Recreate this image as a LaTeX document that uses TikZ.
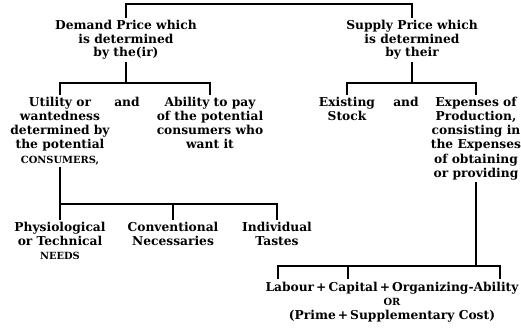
\documentclass[tikz,border=0pt]{standalone}
\usepackage{fontspec}
\setmainfont{DejaVu Serif}
\newcommand{\capsword}[1]{{\fontsize{7.4}{10.6}\selectfont #1}}

\begin{document}
\begin{tikzpicture}[x=0.75pt,y=0.75pt,yscale=-1,xscale=1,
    txt/.style={font=\bfseries\fontsize{9.2}{10.6}\selectfont, align=center, inner sep=1.5pt},
    link/.style={line width=0.9pt}]
        \useasboundingbox (0,0) rectangle (521,329);

        %Text Node: the two prices
        \node[txt, font=\bfseries\fontsize{9.2}{10.1}\selectfont] (demand) at (126,40) {Demand Price which\\is determined\\by the(ir)};
        \node[txt, font=\bfseries\fontsize{9.2}{10.1}\selectfont] (supply) at (412,40) {Supply Price which\\is determined\\by their};

        %Text Node: demand side
        \node[txt, anchor=north] (utility) at (60,95) {Utility or\\wantedness\\determined by\\the potential\\\capsword{CONSUMERS,}};
        \node[txt, anchor=north] (and1) at (127,95) {and};
        \node[txt, anchor=north] (ability) at (210,95) {Ability to pay\\of the potential\\consumers who\\want it};

        %Text Node: supply side
        \node[txt, anchor=north] (existing) at (347,95) {Existing\\Stock};
        \node[txt, anchor=north] (and2) at (406,95) {and};
        \node[txt, anchor=north] (expenses) at (476,95) {Expenses of\\Production,\\consisting in\\the Expenses\\of obtaining\\or providing};

        %Text Node: kinds of wants
        \node[txt, anchor=north] (needs) at (60,220) {Physiological\\or Technical\\\capsword{NEEDS}};
        \node[txt, anchor=north] (conventional) at (173,220) {Conventional\\Necessaries};
        \node[txt, anchor=north] (individual) at (277,220) {Individual\\Tastes};

        %Text Node: factors of production
        \node[txt, anchor=north] (factors) at (392,280) {Labour\,+\,Capital\,+\,Organizing-Ability\\\capsword{OR}\\(Prime\,+\,Supplementary Cost)};

        %Shape: brackets
        \coordinate (topbar) at (270,4);
        \coordinate (dbar) at (126,83);
        \coordinate (sbar) at (412,83);
        \coordinate (ubar) at (60,204);
        \coordinate (cbar) at (476,266);
        \coordinate (tlab) at (278,279);
        \coordinate (tcap) at (348,279);
        \coordinate (tabl) at (500,279);

        \draw[link] (demand.north) |- (topbar) -| (supply.north);
        \draw[link] (demand.south) -- (dbar);
        \draw[link] (utility.north) |- (dbar) -| (ability.north);
        \draw[link] (supply.south) -- (sbar);
        \draw[link] (existing.north) |- (sbar) -| (expenses.north);
        \draw[link] (utility.south) -- (ubar) -- (needs.north);
        \draw[link] (ubar) -| (individual.north);
        \draw[link] (conventional.north) -- (conventional.north |- ubar);
        \draw[link] (expenses.south) -- (cbar);
        \draw[link] (tlab) |- (cbar);
        \draw[link] (tabl) |- (cbar);
        \draw[link] (tcap) -- (tcap |- cbar);
\end{tikzpicture}
\end{document}
